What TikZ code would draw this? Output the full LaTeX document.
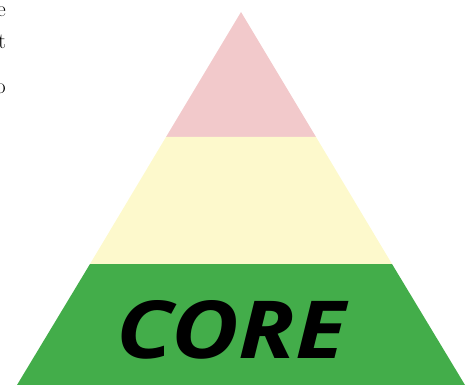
\documentclass[tikz,border=0pt]{standalone}
\usepackage{fontspec}
\newfontfamily\corefont{Open Sans}
\definecolor{pinkL}{HTML}{F2C9CB}
\definecolor{yelL}{HTML}{FDF9CC}
\definecolor{grnL}{HTML}{43AD4A}
\begin{document}
\begin{tikzpicture}[x=1pt,y=-1pt,
  frag/.style={anchor=east,inner sep=0pt,font=\fontsize{22}{22}\selectfont}]
\useasboundingbox (0,0) rectangle (474,385);
\clip (0,0) rectangle (474,385);
\fill[pinkL] (241,12) -- (316,137) -- (166,137) -- cycle;
\fill[yelL] (166,137) -- (316,137) -- (392,264) -- (90,264) -- cycle;
\fill[grnL] (90,264) -- (392,264) -- (465,385) -- (17,385) -- cycle;
\node[inner sep=0pt,xscale=1.16,font=\corefont\bfseries\itshape\fontsize{80}{80}\selectfont] (core) at (231,330) {CORE};
\node[frag] (f1) at (6,12) {e};
\node[frag] (f2) at (6,42) {t};
\node[frag] (f3) at (6,89) {o};
\end{tikzpicture}
\end{document}
